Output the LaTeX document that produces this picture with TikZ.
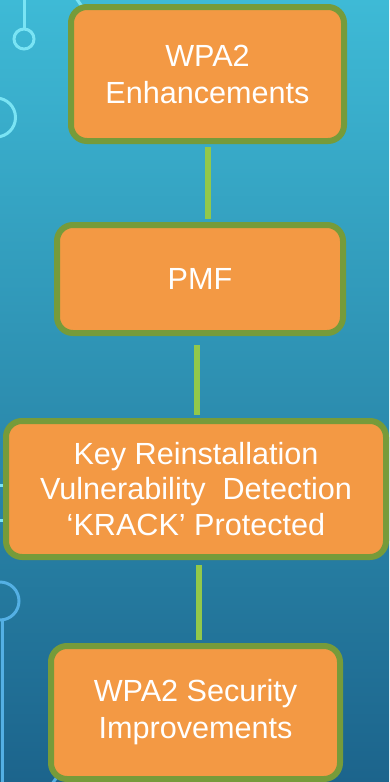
\documentclass[tikz,border=0pt]{standalone}
\usepackage{fontspec}
\setmainfont{Liberation Sans}
\usetikzlibrary{calc}

\definecolor{bgtop}{RGB}{62,186,214}
\definecolor{bgmid}{RGB}{42,154,190}
\definecolor{bgbot}{RGB}{28,100,140}
\definecolor{boxfill}{RGB}{243,153,68}
\definecolor{boxline}{RGB}{118,155,58}
\definecolor{linkgreen}{RGB}{146,200,74}
\definecolor{traceA}{RGB}{122,228,244}
\definecolor{traceB}{RGB}{84,176,228}

\begin{document}
\begin{tikzpicture}[x=1pt,y=-1pt,
  stepbox/.style={draw=boxline, line width=6pt, fill=boxfill,
    rounded corners=16pt, text=white, align=center, inner sep=0pt,
    font=\fontsize{30.6}{37}\selectfont},
  link/.style={draw=linkgreen, line width=6pt, shorten <=3pt, shorten >=3pt},
  trace/.style={line width=3pt}]

% backdrop
\useasboundingbox (0,0) rectangle (389,782);
\shade[top color=bgtop, middle color=bgmid, bottom color=bgbot]
  (0,0) rectangle (389,782);

% circuit traces
\draw[trace, traceA] (24,-2) -- (24,29);
\draw[trace, traceA] (24,39) circle[radius=10pt];
\draw[trace, traceA] (76,-2) -- (95,25);
\draw[trace, traceA] (-4,117.5) circle[radius=19.5pt];
\draw[trace, traceA] (-2,485) -- (4,485);
\draw[trace, traceA] (-2,520) -- (4,520);
\draw[trace, traceB] (0,601) circle[radius=19pt];
\draw[trace, traceB] (2,620) -- (2,784);
\draw[trace, traceB] (52,784) -- (62,770);

% steps
\node[stepbox, minimum width=273pt, minimum height=134pt] (b1) at (207.5,74)
  {WPA2\\Enhancements};
\node[stepbox, minimum width=286pt, minimum height=108pt] (b2) at (200,279)
  {PMF};
\node[stepbox, minimum width=380pt, minimum height=136pt,
      font=\fontsize{30.6}{35.5}\selectfont] (b3) at (196,489)
  {Key Reinstallation\\Vulnerability\ \ Detection\\‘KRACK’ Protected};
\node[stepbox, minimum width=289pt, minimum height=133pt] (b4) at (195.5,712.5)
  {WPA2 Security\\Improvements};

% connectors
\draw[link] (b1.south) -- (b1.south |- b2.north);
\draw[link, shorten <=9pt] ([xshift=1pt]b3.north |- b2.south) -- ([xshift=1pt]b3.north);
\draw[link, shorten <=5pt] ([xshift=3pt]b3.south) -- ([xshift=3pt]b3.south |- b4.north);
\end{tikzpicture}
\end{document}
